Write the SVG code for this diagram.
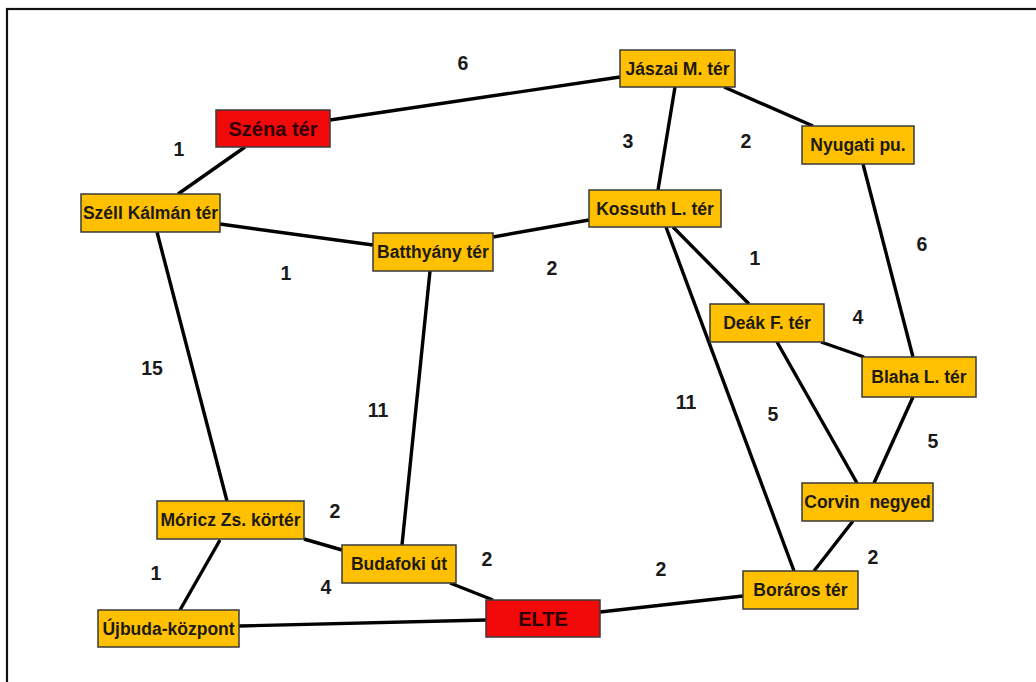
<svg xmlns="http://www.w3.org/2000/svg" width="1036" height="682" viewBox="0 0 1036 682">
<style>
.bg{fill:#fff}
.frame{fill:none;stroke:#111;stroke-width:2.2}
.box{fill:#FFC000;stroke:#3a3a3a;stroke-width:1.5}
.red{fill:#F20A0A;stroke:#3a3a3a;stroke-width:1.5}
.t{font-family:"Liberation Sans",Arial,sans-serif;font-weight:bold;font-size:17.5px;fill:#1e1a14;text-anchor:middle}
.tr{font-family:"Liberation Sans",Arial,sans-serif;font-weight:bold;font-size:20px;fill:#2e0004;text-anchor:middle}
.w{font-family:"Liberation Sans",Arial,sans-serif;font-weight:bold;font-size:19.5px;fill:#1a1a1a;text-anchor:middle}
.e{stroke:#000;stroke-width:3.4;fill:none;stroke-linecap:butt}
</style>
<rect class="bg" x="0" y="0" width="1036" height="682"/>
<rect class="frame" x="7" y="9" width="1060" height="700"/>
<g id="connectors">
<line class="e" x1="330" y1="120" x2="620" y2="77"/>
<line class="e" x1="245" y1="147" x2="178" y2="194"/>
<line class="e" x1="220" y1="224" x2="373" y2="245"/>
<line class="e" x1="493" y1="237" x2="589" y2="220"/>
<line class="e" x1="675" y1="87" x2="658" y2="190"/>
<line class="e" x1="724" y1="87" x2="813" y2="126"/>
<line class="e" x1="863" y1="164" x2="913" y2="357"/>
<line class="e" x1="673" y1="227" x2="749" y2="304"/>
<line class="e" x1="666" y1="227" x2="794" y2="571"/>
<line class="e" x1="821" y1="342" x2="864" y2="357"/>
<line class="e" x1="777" y1="342" x2="857" y2="483"/>
<line class="e" x1="913" y1="397" x2="874" y2="483"/>
<line class="e" x1="853" y1="521" x2="814" y2="571"/>
<line class="e" x1="743" y1="596" x2="600" y2="612"/>
<line class="e" x1="450" y1="583" x2="493" y2="600"/>
<line class="e" x1="486" y1="620" x2="239" y2="626"/>
<line class="e" x1="402" y1="545" x2="430" y2="271"/>
<line class="e" x1="304" y1="539" x2="342" y2="550"/>
<line class="e" x1="220" y1="540" x2="180" y2="610"/>
<line class="e" x1="157" y1="232" x2="227" y2="501"/>
</g>
<g id="weights">
<text class="w" x="463" y="70">6</text>
<text class="w" x="179" y="156">1</text>
<text class="w" x="286" y="280">1</text>
<text class="w" x="152" y="375">15</text>
<text class="w" x="378" y="417">11</text>
<text class="w" x="335" y="518">2</text>
<text class="w" x="156" y="580">1</text>
<text class="w" x="326" y="594">4</text>
<text class="w" x="487" y="566">2</text>
<text class="w" x="628" y="148">3</text>
<text class="w" x="746" y="148">2</text>
<text class="w" x="922" y="251">6</text>
<text class="w" x="552" y="275">2</text>
<text class="w" x="755" y="265">1</text>
<text class="w" x="858" y="324">4</text>
<text class="w" x="686" y="409">11</text>
<text class="w" x="773" y="421">5</text>
<text class="w" x="933" y="448">5</text>
<text class="w" x="873" y="564">2</text>
<text class="w" x="661" y="576">2</text>
</g>
<g id="n-szena"><rect class="red" x="216" y="110" width="114" height="37"/><text class="tr" x="273" y="135.5">Széna tér</text></g>
<g id="n-szell"><rect class="box" x="81" y="194" width="139" height="38"/><text class="t" x="150.5" y="219">Széll Kálmán tér</text></g>
<g id="n-batthyany"><rect class="box" x="373" y="233" width="120" height="38"/><text class="t" x="433" y="258">Batthyány tér</text></g>
<g id="n-jaszai"><rect class="box" x="620" y="50" width="115" height="37"/><text class="t" x="677.5" y="74.5">Jászai M. tér</text></g>
<g id="n-nyugati"><rect class="box" x="802" y="126" width="112" height="38"/><text class="t" x="858" y="151">Nyugati pu.</text></g>
<g id="n-kossuth"><rect class="box" x="589" y="190" width="132" height="37"/><text class="t" x="655" y="214.5">Kossuth L. tér</text></g>
<g id="n-deak"><rect class="box" x="710" y="304" width="114" height="38"/><text class="t" x="767" y="329">Deák F. tér</text></g>
<g id="n-blaha"><rect class="box" x="862" y="357" width="114" height="40"/><text class="t" x="919" y="383">Blaha L. tér</text></g>
<g id="n-corvin"><rect class="box" x="802" y="483" width="131" height="38"/><text class="t" x="867.5" y="508" style="white-space:pre">Corvin  negyed</text></g>
<g id="n-boraros"><rect class="box" x="743" y="571" width="115" height="38"/><text class="t" x="800.5" y="596">Boráros tér</text></g>
<g id="n-elte"><rect class="red" x="486" y="600" width="114" height="37"/><text class="tr" x="543" y="625.5">ELTE</text></g>
<g id="n-moricz"><rect class="box" x="157" y="501" width="147" height="38"/><text class="t" x="230.5" y="526">Móricz Zs. körtér</text></g>
<g id="n-budafoki"><rect class="box" x="342" y="545" width="114" height="38"/><text class="t" x="399" y="570">Budafoki út</text></g>
<g id="n-ujbuda"><rect class="box" x="98" y="610" width="141" height="37"/><text class="t" x="168.5" y="634.5">Újbuda-központ</text></g>
</svg>
